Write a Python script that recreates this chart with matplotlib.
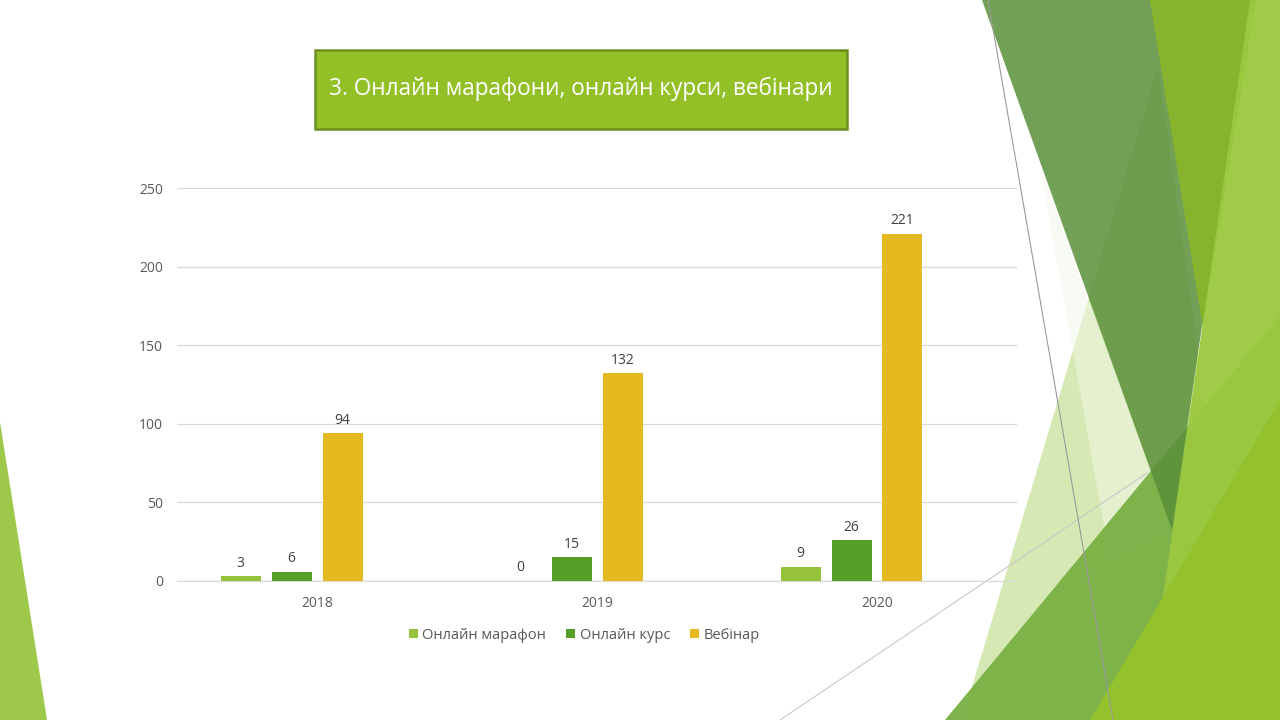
import matplotlib
matplotlib.use('Agg')
import matplotlib.pyplot as plt
from matplotlib.patches import Polygon, Rectangle
import numpy as np

plt.rcParams['font.family'] = ['Open Sans', 'DejaVu Sans']

# дані
years = ['2018', '2019', '2020']
series_names = ['Онлайн марафон', 'Онлайн курс', 'Вебінар']
marathon = [3, 0, 9]
course = [6, 15, 26]
webinar = [94, 132, 221]
series_colors = ['#96C23B', '#559F26', '#E5B920']
title_text = '3. Онлайн марафони, онлайн курси, вебінари'

W, H = 1280, 720
fig = plt.figure(figsize=(12.8, 7.2), dpi=100)
fig.patch.set_facecolor('white')

# фон з декоративними фігурами (тема Facet), координати в пікселях
bg = fig.add_axes([0, 0, 1, 1], zorder=0)
bg.set_xlim(0, W)
bg.set_ylim(H, 0)
bg.axis('off')

def poly(pts, color, alpha=1.0):
    bg.add_patch(Polygon(pts, closed=True, facecolor=color, edgecolor='none', alpha=alpha))

poly([(0, 422), (47, 720), (0, 720)], '#9DC84A')
poly([(1158, 67), (962, 720), (1250, 720)], '#B5D878', 0.55)
poly([(1040, 167), (1110, 560), (1172, 530)], '#F2F8E8', 0.5)
bg.plot([780, 1147], [720, 473], color='#C8C8C8', lw=0.8)
poly([(945, 720), (1280, 315), (1280, 720)], '#78B043', 0.95)
poly([(982, 0), (1250, 0), (1172, 530)], '#5A8F3A', 0.85)
poly([(1150, 0), (1256, 0), (1203, 328)], '#86B42F')
poly([(1250, 0), (1280, 0), (1280, 720), (1145, 720)], '#9BC93F', 0.95)
bg.plot([988, 1113], [0, 720], color='#9A9A9A', lw=0.8)
poly([(1090, 720), (1280, 400), (1280, 720)], '#93C22C')

# заголовок у зеленій рамці
bg.add_patch(Rectangle((315, 50), 532, 79, facecolor='#92C026', edgecolor='#6B8E23', lw=1.8))
bg.text(581, 89, title_text, color='white', fontsize=16.3, ha='center', va='center')

# діаграма
ax = fig.add_axes([177 / W, 1 - 581 / H, 840 / W, 393 / H], zorder=1)
ax.patch.set_alpha(0)
x = np.arange(len(years))
width = 40 / 280
step = 51 / 280
all_series = [marathon, course, webinar]
for i, (vals, name, col) in enumerate(zip(all_series, series_names, series_colors)):
    pos = x + (i - 1.5) * step
    bars = ax.bar(pos, vals, width=width, color=col, label=name, zorder=3)
    for b, v in zip(bars, vals):
        ax.annotate(str(v), (b.get_x() + b.get_width() / 2, v), xytext=(0, 4),
                    textcoords='offset points', ha='center', va='bottom',
                    fontsize=10, color='#404040')

ax.set_xlim(-0.5, 2.5)
ax.set_ylim(0, 250)
ax.set_yticks(range(0, 251, 50))
ax.set_xticks(x)
ax.set_xticklabels(years)
ax.grid(axis='y', color='#D9D9D9', lw=0.9, zorder=0)
for s in ['top', 'right', 'left']:
    ax.spines[s].set_visible(False)
ax.spines['bottom'].set_color('#D9D9D9')
ax.tick_params(axis='both', length=0, labelsize=10, labelcolor='#595959')
ax.tick_params(axis='y', pad=10)
ax.tick_params(axis='x', pad=11)

ax.legend(loc='upper center', bbox_to_anchor=(0.485, -0.085), ncol=3, frameon=False,
          fontsize=10.5, labelcolor='#595959', handlelength=0.6, handleheight=0.6,
          handletextpad=0.3, columnspacing=1.4)

fig.savefig('out.png', dpi=100)
